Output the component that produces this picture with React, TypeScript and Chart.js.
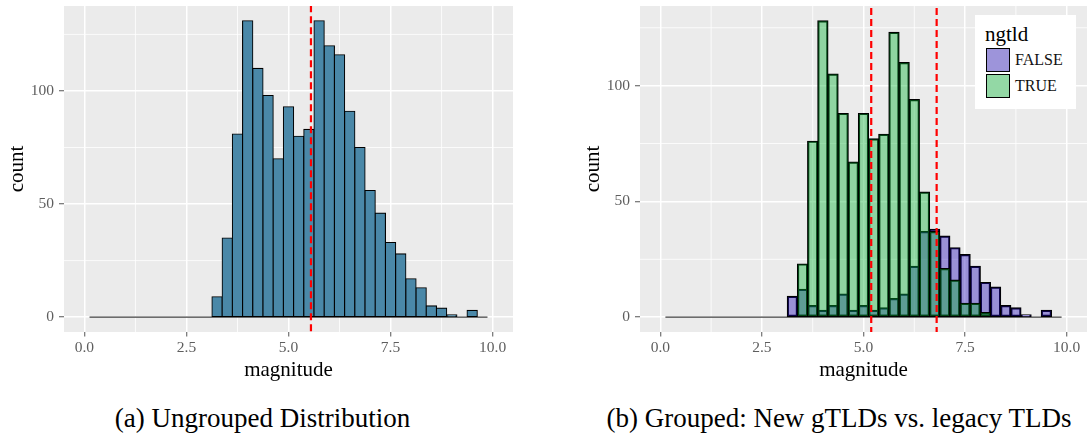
import React, { useEffect, useRef } from "react";
import { Chart, registerables } from "chart.js";

Chart.register(...registerables);

const FONT = "'Liberation Serif', 'Times New Roman', serif";
Chart.defaults.font.family = FONT;

// ---- data ----
const binCenters = [
  0.25, 0.5, 0.75, 1.0, 1.25, 1.5, 1.75, 2.0, 2.25, 2.5, 2.75, 3.0, 3.25,
  3.5, 3.75, 4.0, 4.25, 4.5, 4.75, 5.0, 5.25, 5.5, 5.75, 6.0, 6.25, 6.5,
  6.75, 7.0, 7.25, 7.5, 7.75, 8.0, 8.25, 8.5, 8.75, 9.0, 9.25, 9.5, 9.75,
];
const countsAll = [
  0, 0, 0, 0, 0, 0, 0, 0, 0, 0, 0, 0, 9,
  35, 81, 131, 110, 98, 70, 93, 80, 83, 131, 120, 116, 91,
  75, 56, 46, 33, 28, 17, 13, 5, 4, 1, 0, 3, 0,
];
const countsFalse = [
  0, 0, 0, 0, 0, 0, 0, 0, 0, 0, 0, 0, 9,
  12, 5, 3, 5, 10, 3, 5, 3, 4, 8, 10, 22, 37,
  38, 35, 30, 27, 22, 15, 13, 5, 4, 1, 0, 3, 0,
];
const countsTrue = [
  0, 0, 0, 0, 0, 0, 0, 0, 0, 0, 0, 0, 0,
  23, 76, 128, 105, 88, 67, 88, 77, 79, 123, 110, 94, 54,
  37, 21, 16, 6, 6, 2, 0, 0, 0, 0, 0, 0, 0,
];
const baselineRange = [0.125, 9.875];
const meanAll = [5.55];
const meanGroups = [6.8, 5.19]; // FALSE, TRUE
const groupNames = ["FALSE", "TRUE"];

const xRange = [-0.5, 10.5];
const yRangeA = [-6.55, 137.55];
const yRangeB = [-6.4, 134.4];
const xTickValues = [0, 2.5, 5, 7.5, 10];
const xTickLabels = ["0.0", "2.5", "5.0", "7.5", "10.0"];
const xMinorValues = [1.25, 3.75, 6.25, 8.75];
const yTickValues = [0, 50, 100];
const yTickLabels = ["0", "50", "100"];
const yMinorValues = [25, 75, 125];

const xTitle = "magnitude";
const yTitle = "count";
const legendTitle = "ngtld";
const captions = [
  "(a) Ungrouped Distribution",
  "(b) Grouped: New gTLDs vs. legacy TLDs",
];

// ---- styles ----
const COL_SINGLE = "#4A88A8";
const COL_FALSE = "rgba(30,8,182,0.4)";
const COL_TRUE = "rgba(5,177,50,0.4)";
const PANEL_BG = "#EBEBEB";

const panelBg = {
  id: "panelBg",
  beforeDraw(chart: any) {
    const { ctx, chartArea } = chart;
    ctx.save();
    ctx.fillStyle = PANEL_BG;
    ctx.fillRect(
      chartArea.left,
      chartArea.top,
      chartArea.right - chartArea.left,
      chartArea.bottom - chartArea.top
    );
    ctx.restore();
  },
  beforeDatasetsDraw(chart: any) {
    const { ctx, chartArea, scales } = chart;
    ctx.save();
    ctx.strokeStyle = "#FFFFFF";
    ctx.lineWidth = 0.8;
    ctx.beginPath();
    xMinorValues.forEach((v) => {
      const px = scales.x.getPixelForValue(v);
      ctx.moveTo(px, chartArea.top);
      ctx.lineTo(px, chartArea.bottom);
    });
    yMinorValues.forEach((v) => {
      const py = scales.y.getPixelForValue(v);
      ctx.moveTo(chartArea.left, py);
      ctx.lineTo(chartArea.right, py);
    });
    ctx.stroke();
    ctx.restore();
  },
};

function barSet(values: number[], color: string, order: number) {
  return {
    type: "bar",
    data: binCenters.map((x, i) => ({ x, y: values[i] })),
    backgroundColor: color,
    borderColor: "#000",
    borderWidth: 1.1,
    inflateAmount: 0.55,
    borderSkipped: false,
    barPercentage: 1,
    categoryPercentage: 1,
    grouped: false,
    order,
  };
}

function baselineSet() {
  return {
    type: "line",
    data: baselineRange.map((x) => ({ x, y: 0 })),
    borderColor: "rgba(0,0,0,0.75)",
    borderWidth: 1.2,
    pointRadius: 0,
    order: 9,
  };
}

function meanSet(m: number) {
  return {
    type: "line",
    data: [
      { x: m, y: -50 },
      { x: m, y: 300 },
    ],
    borderColor: "#FF0000",
    borderWidth: 2.2,
    borderDash: [7, 4],
    pointRadius: 0,
    order: 0,
  };
}

function makeOptions(yRange: number[], padRight: number) {
  const tickFont = { family: FONT, size: 15.5 };
  const titleFont = { family: FONT, size: 21 };
  return {
    responsive: false,
    animation: false,
    layout: { padding: { top: 6, right: padRight, left: 0, bottom: 0 } },
    plugins: { legend: { display: false }, tooltip: { enabled: false } },
    scales: {
      x: {
        type: "linear",
        min: xRange[0],
        max: xRange[1],
        offset: false,
        afterBuildTicks: (s: any) => {
          s.ticks = xTickValues.map((v) => ({ value: v }));
        },
        afterFit: (s: any) => {
          s.height = 58;
          s.paddingLeft = 0;
          s.paddingRight = 0;
        },
        ticks: {
          autoSkip: false,
          maxRotation: 0,
          padding: 2,
          color: "#5e5e5e",
          font: tickFont,
          callback: (_v: any, i: number) => xTickLabels[i],
        },
        grid: {
          offset: false,
          color: "#FFFFFF",
          lineWidth: 1.5,
          tickLength: 4.5,
          tickWidth: 1,
          tickColor: "#555",
        },
        border: { display: false },
        title: {
          display: true,
          text: xTitle,
          color: "#000",
          font: titleFont,
          padding: { top: 0, bottom: 7 },
        },
      },
      y: {
        type: "linear",
        min: yRange[0],
        max: yRange[1],
        afterBuildTicks: (s: any) => {
          s.ticks = yTickValues.map((v) => ({ value: v }));
        },
        afterFit: (s: any) => {
          s.width = 64;
          s.paddingTop = 0;
          s.paddingBottom = 0;
        },
        ticks: {
          autoSkip: false,
          padding: 5,
          color: "#5e5e5e",
          font: tickFont,
          callback: (_v: any, i: number) => yTickLabels[i],
        },
        grid: {
          offset: false,
          color: "#FFFFFF",
          lineWidth: 1.5,
          tickLength: 5,
          tickWidth: 1,
          tickColor: "#555",
        },
        border: { display: false },
        title: {
          display: true,
          text: yTitle,
          color: "#000",
          font: titleFont,
          padding: { top: 4.5, bottom: 0 },
        },
      },
    },
  };
}

function HistChart(props: {
  datasets: any[];
  yRange: number[];
  left: number;
  width: number;
  padRight: number;
}) {
  const ref = useRef<HTMLCanvasElement>(null);
  useEffect(() => {
    const chart = new Chart(ref.current as HTMLCanvasElement, {
      type: "bar",
      data: { datasets: props.datasets } as any,
      options: makeOptions(props.yRange, props.padRight) as any,
      plugins: [panelBg],
    });
    return () => chart.destroy();
  }, []);
  return (
    <canvas
      ref={ref}
      width={props.width}
      height={390}
      style={{
        position: "absolute",
        left: props.left,
        top: 0,
        width: props.width,
        height: 390,
      }}
    />
  );
}

function LegendKey({ color }: { color: string }) {
  return (
    <div
      style={{
        width: 24,
        height: 24,
        boxSizing: "border-box",
        border: "1px solid #000",
        background: "#F2F2F2",
        position: "relative",
      }}
    >
      <div style={{ position: "absolute", inset: 0, background: color }} />
    </div>
  );
}

export default function App() {
  const datasetsA = [
    meanSet(meanAll[0]),
    barSet(countsAll, COL_SINGLE, 1),
    baselineSet(),
  ];
  const datasetsB = [
    meanSet(meanGroups[0]),
    meanSet(meanGroups[1]),
    barSet(countsTrue, COL_TRUE, 1),
    barSet(countsFalse, COL_FALSE, 2),
    baselineSet(),
  ];
  const legendColors = [COL_FALSE, COL_TRUE];
  return (
    <div
      style={{
        position: "absolute",
        left: 0,
        top: 0,
        width: 1088,
        height: 434,
        background: "#fff",
        fontFamily: FONT,
        overflow: "hidden",
      }}
    >
      <HistChart datasets={datasetsA} yRange={yRangeA} left={0} width={530} padRight={17} />
      <HistChart datasets={datasetsB} yRange={yRangeB} left={576} width={512} padRight={1} />

      {/* legend for panel (b) */}
      <div
        style={{
          position: "absolute",
          left: 975,
          top: 15,
          width: 101,
          height: 94,
          background: "#fff",
        }}
      >
        <div
          style={{
            position: "absolute",
            left: 10,
            top: 6,
            fontSize: 21,
            lineHeight: "26px",
            color: "#000",
          }}
        >
          {legendTitle}
        </div>
        {groupNames.map((g, i) => (
          <div
            key={g}
            style={{
              position: "absolute",
              left: 11,
              top: 32.5 + i * 26,
              display: "flex",
              alignItems: "center",
            }}
          >
            <LegendKey color={legendColors[i]} />
            <span style={{ marginLeft: 5, fontSize: 16, color: "#111" }}>{g}</span>
          </div>
        ))}
      </div>

      <div
        style={{
          position: "absolute",
          left: 0,
          top: 402,
          width: 525,
          textAlign: "center",
          fontSize: 27,
          lineHeight: "32px",
          color: "#000",
          whiteSpace: "nowrap",
        }}
      >
        {captions[0]}
      </div>
      <div
        style={{
          position: "absolute",
          left: 577,
          top: 402,
          width: 524,
          textAlign: "center",
          fontSize: 27,
          lineHeight: "32px",
          color: "#000",
          whiteSpace: "nowrap",
        }}
      >
        {captions[1]}
      </div>
    </div>
  );
}
